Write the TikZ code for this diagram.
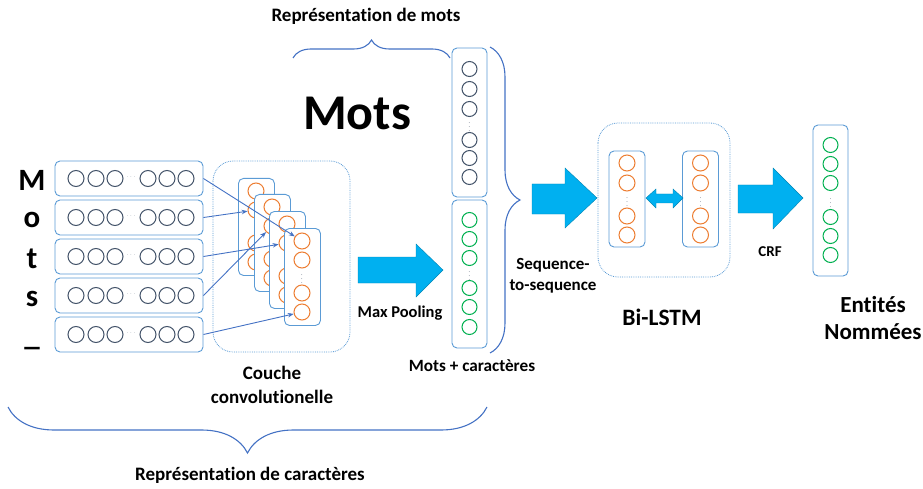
\documentclass[tikz,border=0pt]{standalone}
\usepackage{fontspec}
\setmainfont[Ligatures=NoCommon]{Carlito}
\usetikzlibrary{decorations.pathreplacing,arrows.meta}
\definecolor{boxblue}{HTML}{5B9BD5}
\definecolor{linkblue}{HTML}{4472C4}
\definecolor{fillblue}{HTML}{00B0F0}
\definecolor{darkc}{HTML}{44546A}
\definecolor{orangec}{HTML}{ED7D31}
\definecolor{greenc}{HTML}{00B050}
\tikzset{
    every node/.style={font=\bfseries\fontsize{19}{24}\selectfont},
    unit/.style={circle, draw=#1, line width=1pt, minimum size=16pt, inner sep=0pt},
    smallunit/.style={unit=#1, minimum size=15pt},
    vecbox/.style={draw=boxblue, fill=white, rounded corners=5pt, line width=0.9pt,
        inner sep=0pt},
    dotbox/.style={draw=boxblue, densely dotted, rounded corners=20pt, line width=0.8pt}
}
\tikzset{
    link/.style={draw=linkblue, line width=0.9pt, -{Stealth[length=6pt,width=4.5pt]}},
    fatarrow/.style={fill=fillblue, draw=fillblue!75!black, line width=0.4pt},
    bracket/.style={draw=linkblue, line width=1.1pt, decorate,
        decoration={brace, amplitude=#1}},
    tinydots/.style={font=\fontsize{6}{6}\selectfont, text=darkc, inner sep=0pt},
    bigletter/.style={font=\bfseries\fontsize{31}{31}\selectfont, anchor=base}
}

\begin{document}
\begin{tikzpicture}[x=1pt, y=-1pt]
	\useasboundingbox (0,0) rectangle (923,489);

	\node (lm) [bigletter] at (32,190) {M};
	\node (lo) [bigletter] at (32,227) {o};
	\node (lt) [bigletter] at (32,268) {t};
	\node (ls) [bigletter] at (32,306) {s};
	\node (lu) [bigletter] at (32,345) {\_};

	\foreach \r/\y in {1/178.5, 2/217.5, 3/256.5, 4/295.5, 5/334.5} {
		\node (row\r) [vecbox, minimum width=148pt, minimum height=35pt] at (129,\y) {};
		\foreach \i/\x in {1/76, 2/96, 3/115, 4/148, 5/167, 6/186}
			\node (r\r-\i) [unit=darkc] at (\x,\y) {};
		\node (rd\r) [tinydots, font=\fontsize{4}{4}\selectfont] at (131,\y-1) {$\cdots$};
	}

	\draw [dotbox] (213,161) rectangle (350,352);
	\foreach \k/\x/\y in {1/238/178, 2/254/194, 3/269/211, 4/284/228} {
		\node (filt\k) [vecbox, minimum width=36pt, minimum height=97pt, anchor=north west]
			at (\x,\y) {};
		\foreach \i/\dy in {1/13, 2/32, 4/65, 5/84}
			\node (f\k-\i) [unit=orangec] at (\x+18,\y+\dy) {};
		\node (fd\k) [tinydots] at (\x+18,\y+48) {$\vdots$};
	}
	\draw [link] (row1.east) -- (f4-1);
	\draw [link] (row2.east) -- (f1-2);
	\draw [link] (row3.east) -- (f3-2);
	\draw [link] (row4.east) -- (f2-2);
	\draw [link] (row5.east) -- (f4-5);
	\node (conv) [align=center] at (272,385) {Couche\\convolutionelle};

	\draw [fatarrow] (358,257) -- (416,257) -- (416,244) -- (443,270) -- (416,297)
		-- (416,283) -- (358,283) -- cycle;
	\node (maxpool) [font=\bfseries\fontsize{16.5}{20}\selectfont] at (400,313) {Max Pooling};

	\node (words) [vecbox, minimum width=35pt, minimum height=149pt] at (469.5,122.5) {};
	\foreach \i/\y in {1/69, 2/89, 3/109, 5/140, 6/158, 7/177}
		\node (w\i) [smallunit=darkc] at (469.5,\y) {};
	\node (wd) [tinydots] at (469.5,124) {$\vdots$};
	\node (chars) [vecbox, minimum width=35pt, minimum height=148pt] at (469.5,274) {};
	\foreach \i/\y in {1/220, 2/239, 3/258, 5/288, 6/307, 7/327}
		\node (c\i) [smallunit=greenc] at (469.5,\y) {};
	\node (cd) [tinydots] at (469.5,273) {$\vdots$};
	\node (concat) [font=\bfseries\fontsize{17.2}{20}\selectfont] at (472,366)
		{Mots + caractères};

	\node (mots) [font=\bfseries\fontsize{50}{50}\selectfont, anchor=base] at (357,130) {Mots};
	\draw [bracket=18pt] (293,58) -- (450,58);
	\node (reprmots) at (366,16) {Représentation de mots};
	\draw [bracket=30pt] (490,47) -- (490,353);
	\draw [bracket=46pt] (487,407) -- (8,407);
	\node (reprcar) at (250,475) {Représentation de caractères};

	\draw [fatarrow] (532,184) -- (565,184) -- (565,168) -- (597,198) -- (565,228)
		-- (565,214) -- (532,214) -- cycle;
	\node (seq) [align=center, font=\bfseries\fontsize{17}{21}\selectfont] at (553,276)
		{Sequence-\\to-sequence};

	\draw [dotbox] (598,123) rectangle (730,277);
	\foreach \k/\x in {1/627, 2/700.5} {
		\node (lstm\k) [vecbox, minimum width=36pt, minimum height=96pt] at (\x,199) {};
		\foreach \i/\y in {1/163, 2/183, 4/216, 5/235}
			\node (h\k-\i) [unit=orangec] at (\x,\y) {};
		\node (hd\k) [tinydots] at (\x,199) {$\vdots$};
	}
	\draw [fatarrow] (646,198) -- (656,189) -- (656,194) -- (673,194) -- (673,189)
		-- (683,198) -- (673,208) -- (673,203) -- (656,203) -- (656,208) -- cycle;
	\node (bilstm) [font=\bfseries\fontsize{23.5}{26}\selectfont] at (662,317) {Bi-LSTM};

	\draw [fatarrow] (738,185) -- (773,185) -- (773,168) -- (803,198) -- (773,229)
		-- (773,213) -- (738,213) -- cycle;
	\node (crf) [font=\bfseries\fontsize{15}{16}\selectfont] at (770,252) {CRF};

	\node (out) [vecbox, minimum width=35pt, minimum height=151pt] at (830.5,200.5) {};
	\foreach \i/\y in {1/145, 2/164, 3/183, 5/217, 6/236, 7/255}
		\node (o\i) [smallunit=greenc] at (830.5,\y) {};
	\node (od) [tinydots] at (830.5,200) {$\vdots$};
	\node (ent) [align=center, font=\bfseries\fontsize{23}{27}\selectfont] at (873,318)
		{Entités\\Nommées};
\end{tikzpicture}
\end{document}
